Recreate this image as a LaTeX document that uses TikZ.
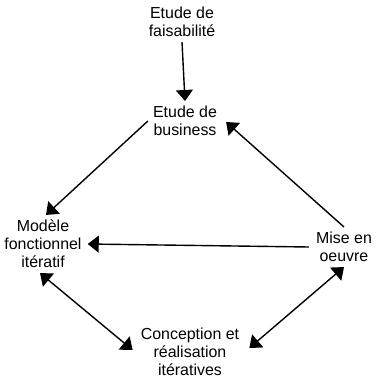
\documentclass[tikz,border=0pt]{standalone}
\usepackage{fontspec}
\setmainfont{Liberation Sans}
\usetikzlibrary{arrows.meta}
\begin{document}
\begin{tikzpicture}[x=1bp, y=-1bp, >={Triangle[length=11bp,width=17bp]},
    etape/.style={align=center, inner sep=5bp, font=\fontsize{16}{18}\selectfont},
    fleche/.style={line width=1.4bp}]
    \useasboundingbox (0,0) rectangle (377,382);
    % les étapes
    \node[etape] (fais) at (182,22) {Etude de\\faisabilité};
    \node[etape] (bus) at (185,121) {Etude de\\business};
    \node[etape] (mod) at (43,244) {Modèle\\fonctionnel\\itératif};
    \node[etape] (mise) at (344,247) {Mise en\\oeuvre};
    \node[etape] (conc) at (190,352) {Conception et\\réalisation\\itératives};

    % les flèches
    \draw[fleche,->] (fais.south) -- (bus.north);
    \draw[fleche,->] (bus.west) -- ([xshift=3bp]mod.north);
    \draw[fleche,->] (mise.north) -- ([xshift=4bp,yshift=-1bp]bus.east);
    \draw[fleche,->] ([xshift=-2bp]mise.west) -- ([xshift=1bp]mod.east);
    \draw[fleche,<->] ([xshift=-3bp]mod.south) -- ([xshift=-3bp,yshift=2bp]conc.west);
    \draw[fleche,<->] (mise.south) -- ([xshift=5bp,yshift=4bp]conc.east);
\end{tikzpicture}
\end{document}
